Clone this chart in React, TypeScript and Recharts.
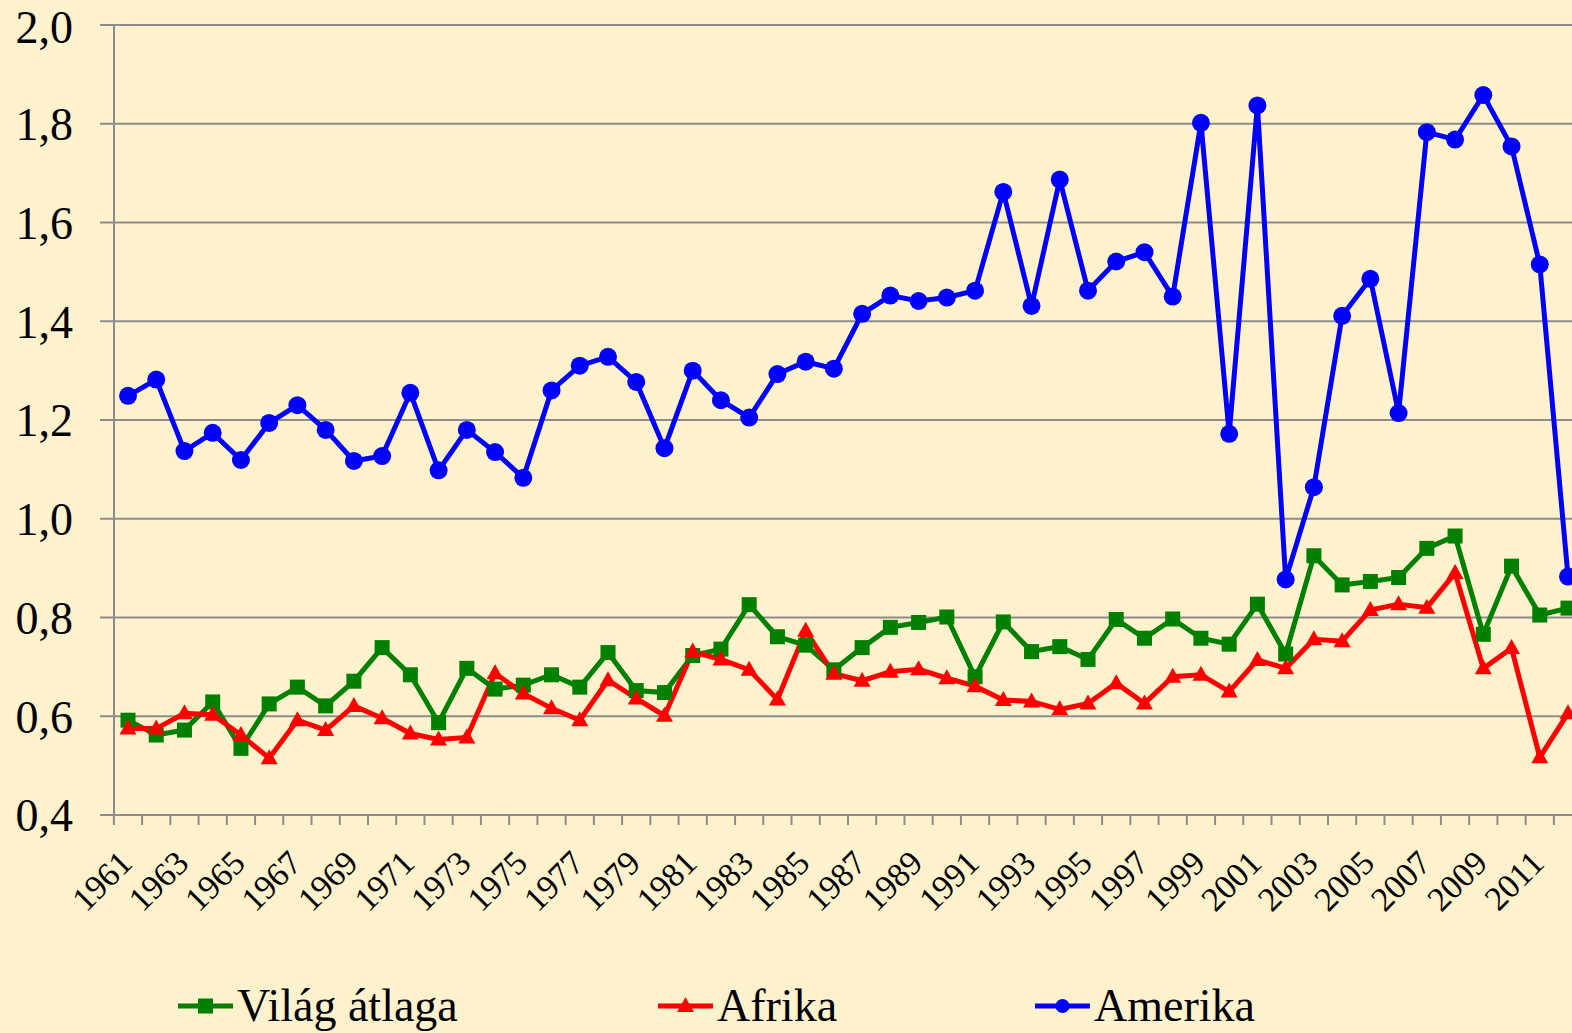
import React from 'react';
import { LineChart, Line, XAxis, YAxis, CartesianGrid, Legend } from 'recharts';

const years = [
  1961, 1962, 1963, 1964, 1965, 1966, 1967, 1968, 1969, 1970,
  1971, 1972, 1973, 1974, 1975, 1976, 1977, 1978, 1979, 1980,
  1981, 1982, 1983, 1984, 1985, 1986, 1987, 1988, 1989, 1990,
  1991, 1992, 1993, 1994, 1995, 1996, 1997, 1998, 1999, 2000,
  2001, 2002, 2003, 2004, 2005, 2006, 2007, 2008, 2009, 2010,
  2011, 2012,
];

const vilagAtlaga = [
  0.592, 0.562, 0.572, 0.629, 0.535, 0.625, 0.659, 0.621, 0.671, 0.739,
  0.684, 0.587, 0.697, 0.655, 0.663, 0.684, 0.659, 0.729, 0.652, 0.648,
  0.723, 0.736, 0.826, 0.761, 0.744, 0.694, 0.739, 0.780, 0.790, 0.801,
  0.680, 0.791, 0.731, 0.741, 0.715, 0.796, 0.758, 0.797, 0.758, 0.746,
  0.827, 0.726, 0.925, 0.866, 0.873, 0.881, 0.940, 0.965, 0.766, 0.904,
  0.805, 0.819,
];

const afrika = [
  0.575, 0.575, 0.606, 0.603, 0.562, 0.515, 0.592, 0.572, 0.621, 0.596,
  0.565, 0.553, 0.557, 0.687, 0.646, 0.616, 0.592, 0.673, 0.636, 0.601,
  0.731, 0.715, 0.694, 0.634, 0.773, 0.686, 0.672, 0.690, 0.695, 0.677,
  0.661, 0.633, 0.630, 0.614, 0.626, 0.667, 0.626, 0.680, 0.684, 0.650,
  0.714, 0.697, 0.756, 0.752, 0.815, 0.827, 0.820, 0.890, 0.697, 0.738,
  0.517, 0.606,
];

const amerika = [
  1.249, 1.282, 1.137, 1.174, 1.119, 1.194, 1.230, 1.180, 1.117, 1.127,
  1.255, 1.098, 1.180, 1.135, 1.083, 1.260, 1.310, 1.328, 1.277, 1.143,
  1.300, 1.240, 1.205, 1.293, 1.318, 1.304, 1.415, 1.452, 1.441, 1.448,
  1.462, 1.662, 1.431, 1.687, 1.462, 1.521, 1.540, 1.450, 1.802, 1.172,
  1.837, 0.877, 1.064, 1.411, 1.486, 1.214, 1.783, 1.768, 1.858, 1.754,
  1.515, 0.883,
];

const yTicks = [0.4, 0.6, 0.8, 1.0, 1.2, 1.4, 1.6, 1.8, 2.0];

const seriesNames = ['Világ átlaga', 'Afrika', 'Amerika'];

const data = years.map((y, i) => ({
  year: y,
  vilag: vilagAtlaga[i],
  afrika: afrika[i],
  amerika: amerika[i],
}));

const FONT = '"Liberation Serif", "Times New Roman", serif';
const GREEN = '#008000';
const RED = '#FF0000';
const BLUE = '#0000FF';
const GRID = '#8C8C8C';
const BG = '#FFF2CC';
const HALF_BAND = 14.12;

const XTick = (props: any) => {
  const { x, y, payload, index } = props;
  const tx = x + 6;
  const ty = y + 40;
  return (
    <g>
      <line x1={x - HALF_BAND} x2={x - HALF_BAND} y1={y - 10} y2={y} stroke={GRID} strokeWidth={2} />
      {index % 2 === 0 && (
        <text
          x={tx}
          y={ty}
          textAnchor="end"
          transform={`rotate(-45, ${tx}, ${ty})`}
          fontSize={34}
          fontFamily={FONT}
          fill="#000"
        >
          {payload.value}
        </text>
      )}
    </g>
  );
};

const SquareDot = (p: any) => {
  if (p.cx == null || p.cy == null) return null;
  return <rect key={`s${p.index}`} x={p.cx - 7.5} y={p.cy - 7.5} width={15} height={15} fill={GREEN} />;
};

const TriangleDot = (p: any) => {
  if (p.cx == null || p.cy == null) return null;
  const { cx, cy } = p;
  return (
    <polygon
      key={`t${p.index}`}
      points={`${cx},${cy - 9} ${cx - 8.5},${cy + 6} ${cx + 8.5},${cy + 6}`}
      fill={RED}
    />
  );
};

const CircleDot = (p: any) => {
  if (p.cx == null || p.cy == null) return null;
  return <circle key={`c${p.index}`} cx={p.cx} cy={p.cy} r={9} fill={BLUE} />;
};

const LegendContent = () => {
  const items = [
    { name: seriesNames[0], color: GREEN, x: 178, shape: 'square' },
    { name: seriesNames[1], color: RED, x: 658, shape: 'triangle' },
    { name: seriesNames[2], color: BLUE, x: 1035, shape: 'circle' },
  ];
  const ly = 31;
  return (
    <svg width={1572} height={58} style={{ display: 'block' }}>
      {items.map((it) => {
        const mx = it.x + 27.5;
        return (
          <g key={it.name}>
            <line x1={it.x} x2={it.x + 55} y1={ly} y2={ly} stroke={it.color} strokeWidth={5} />
            {it.shape === 'square' && <rect x={mx - 7.5} y={ly - 7.5} width={15} height={15} fill={it.color} />}
            {it.shape === 'triangle' && (
              <polygon points={`${mx},${ly - 9} ${mx - 8.5},${ly + 6} ${mx + 8.5},${ly + 6}`} fill={it.color} />
            )}
            {it.shape === 'circle' && <circle cx={mx} cy={ly} r={7} fill={it.color} />}
            <text x={it.x + 59} y={46} fontSize={46} fontFamily={FONT} fill="#000">
              {it.name}
            </text>
          </g>
        );
      })}
    </svg>
  );
};

export default function App() {
  return (
    <div
      style={{
        position: 'absolute',
        left: 0,
        top: 0,
        width: 1572,
        height: 1033,
        overflow: 'hidden',
        background: BG,
      }}
    >
      <LineChart
        width={1600}
        height={1033}
        data={data}
        margin={{ top: 25, right: 18, left: 0, bottom: 40 }}
      >
        <CartesianGrid vertical={false} stroke={GRID} strokeWidth={2} />
        <XAxis
          dataKey="year"
          type="category"
          interval={0}
          height={120}
          padding={{ left: 14, right: 14 }}
          axisLine={{ stroke: GRID, strokeWidth: 2 }}
          tickLine={false}
          tickSize={10}
          tickMargin={0}
          tick={XTick}
        />
        <YAxis
          domain={[0.4, 2.0]}
          ticks={yTicks}
          width={114}
          axisLine={{ stroke: GRID, strokeWidth: 2 }}
          tickLine={{ stroke: GRID, strokeWidth: 2 }}
          tickSize={14}
          tickMargin={27}
          tick={{ fontSize: 46, fill: '#000', fontFamily: FONT }}
          tickFormatter={(v: number) => v.toFixed(1).replace('.', ',')}
        />
        <Legend
          verticalAlign="bottom"
          content={LegendContent}
          wrapperStyle={{ top: 975, left: 0, width: 1572, height: 58 }}
        />
        <Line
          dataKey="vilag"
          name={seriesNames[0]}
          stroke={GREEN}
          strokeWidth={5}
          dot={SquareDot}
          activeDot={false}
          isAnimationActive={false}
        />
        <Line
          dataKey="afrika"
          name={seriesNames[1]}
          stroke={RED}
          strokeWidth={5}
          dot={TriangleDot}
          activeDot={false}
          isAnimationActive={false}
        />
        <Line
          dataKey="amerika"
          name={seriesNames[2]}
          stroke={BLUE}
          strokeWidth={5}
          dot={CircleDot}
          activeDot={false}
          isAnimationActive={false}
        />
      </LineChart>
    </div>
  );
}
